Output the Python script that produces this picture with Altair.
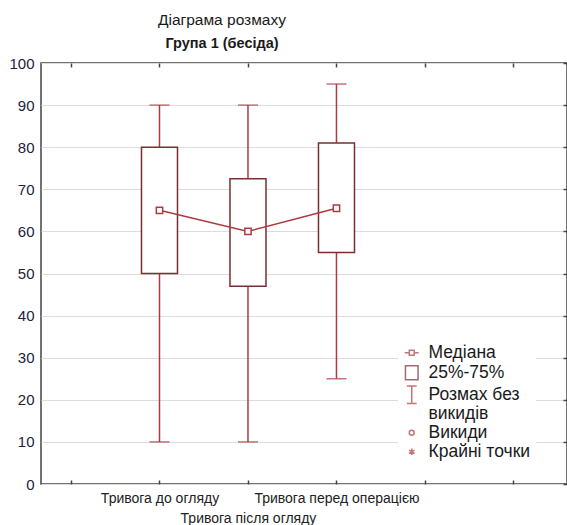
import json
import altair as alt
import pandas as pd

# Box-plot statistics for the three anxiety measurements
categories = ["Тривога до огляду", "Тривога після огляду", "Тривога перед операцією"]
positions = [1, 2, 3]
whisker_low = [10, 10, 25]
whisker_high = [90, 90, 95]
q25 = [50, 47, 55]
q75 = [80, 72.5, 81]
medians = [65, 60, 65.5]

# Legend entries and their symbols
legend_labels = ["Медіана", "25%-75%", "Розмах без\n викидів", "Викиди", "Крайні точки"]
legend_shapes = [
    "M-1,0H-0.35M0.35,0H1M-0.35,-0.35H0.35V0.35H-0.35Z",
    "M-0.9,-1H0.9V1H-0.9Z",
    "M-0.7,-1.25H0.7M0,-1.25V1.25M-0.7,1.25H0.7",
    "M-0.35,0A0.35,0.35,0,1,0,0.35,0A0.35,0.35,0,1,0,-0.35,0Z",
    "M0,-0.45V0.45M-0.4,-0.22L0.4,0.22M-0.4,0.22L0.4,-0.22",
]

RED = "#ad3a3f"
DARK = "#7a2e30"
legend_colors = [RED, DARK, RED, RED, RED]
FONT = "Liberation Sans"
AXIS_COLOR = "#444444"

df = pd.DataFrame({
    "pos": positions,
    "name": categories,
    "lo": whisker_low,
    "hi": whisker_high,
    "q1": q25,
    "q3": q75,
    "med": medians,
})
legend_df = pd.DataFrame({"entry": legend_labels})

x_scale = alt.Scale(domain=[-0.339, 5.605], nice=False, zero=False, padding=0)
y_scale = alt.Scale(domain=[0, 100], nice=False, zero=False, padding=0)
tick_positions = [0, 1, 2, 3, 4, 5]
y_ticks = list(range(0, 101, 10))

names_js = json.dumps(categories, ensure_ascii=False)
label_expr = (
    f"datum.value % 2 == 0 ? ['', {names_js}[datum.value - 1]] "
    f": {names_js}[datum.value - 1]"
)
legend_label_expr = "split(datum.label, '\\n')"

base = alt.Chart(df)

# Whiskers, carrying the labelled bottom axis and the left axis with grid
whiskers = base.mark_rule(color=RED, strokeWidth=1.5).encode(
    x=alt.X("pos:Q", scale=x_scale, axis=alt.Axis(
        orient="bottom", values=[1, 2, 3], ticks=False, domain=False, grid=False,
        labelExpr=label_expr, labelFont=FONT, labelFontSize=14, labelColor="#222222",
        labelPadding=7, labelLineHeight=20, labelBaseline="top", labelFlush=False,
        labelOverlap=False, title=None)),
    y=alt.Y("lo:Q", scale=y_scale, axis=alt.Axis(
        orient="left", values=y_ticks, ticks=False, domain=False, grid=True,
        gridColor="#dcdcdc", gridWidth=1, labelFont=FONT, labelFontSize=15,
        labelColor="#22223a", labelPadding=7, title=None)),
    y2="hi:Q",
)

# Whisker caps, carrying inward tick marks on the top and right edges
caps_hi = base.mark_tick(color=RED, orient="horizontal", size=20, thickness=1.5).encode(
    x=alt.X("pos:Q", scale=x_scale, axis=alt.Axis(
        orient="top", values=tick_positions, labels=False, domain=False, grid=False,
        ticks=True, tickSize=4, tickColor=AXIS_COLOR, tickWidth=1.5, offset=-4, title=None)),
    y=alt.Y("hi:Q", scale=y_scale, axis=alt.Axis(
        orient="right", values=y_ticks, labels=False, domain=False, grid=False,
        ticks=True, tickSize=4, tickColor=AXIS_COLOR, tickWidth=1.5, offset=-4, title=None)),
)
caps_lo = base.mark_tick(color=RED, orient="horizontal", size=20, thickness=1.5).encode(
    x=alt.X("pos:Q", scale=x_scale, axis=None),
    y=alt.Y("lo:Q", scale=y_scale, axis=None),
)

# Interquartile boxes, carrying inward tick marks on the bottom edge
boxes = base.mark_bar(size=36, fill="white", stroke=DARK, strokeWidth=1.5).encode(
    x=alt.X("pos:Q", scale=x_scale, axis=alt.Axis(
        orient="bottom", values=tick_positions, labels=False, domain=False, grid=False,
        ticks=True, tickSize=4, tickColor=AXIS_COLOR, tickWidth=1.5, offset=-4, title=None)),
    y=alt.Y("q1:Q", scale=y_scale, axis=None),
    y2="q3:Q",
)

# Medians joined by a line
median_line = base.mark_line(color=RED, strokeWidth=1.5).encode(
    x=alt.X("pos:Q", scale=x_scale, axis=None),
    y=alt.Y("med:Q", scale=y_scale, axis=None),
)
median_pts = base.mark_point(shape="square", size=40, filled=False, fill="white",
                             fillOpacity=1, stroke=RED, strokeWidth=1.5).encode(
    x=alt.X("pos:Q", scale=x_scale, axis=None),
    y=alt.Y("med:Q", scale=y_scale, axis=None),
)

# Legend-only layer: points sit outside the clipped view
legend_layer = alt.Chart(legend_df).mark_point(size=196, filled=False, clip=True,
                                               strokeWidth=1.5).encode(
    x=alt.value(-60),
    y=alt.value(-60),
    shape=alt.Shape("entry:N", scale=alt.Scale(domain=legend_labels, range=legend_shapes),
                    legend=alt.Legend(title=None, labelExpr=legend_label_expr)),
    stroke=alt.Stroke("entry:N", scale=alt.Scale(domain=legend_labels, range=legend_colors),
                      legend=alt.Legend(title=None, labelExpr=legend_label_expr)),
)

chart = alt.layer(
    whiskers, caps_hi, caps_lo, boxes, median_line, median_pts, legend_layer
).resolve_axis(
    x="independent", y="independent"
).properties(
    width=526,
    height=421,
    autosize=alt.AutoSizeParams(type="none"),
    padding={"left": 41, "top": 63, "right": 0, "bottom": 41},
    title=alt.TitleParams(
        text="Діаграма розмаху",
        subtitle="Група 1 (бесіда)",
        font=FONT, fontSize=15.5, fontWeight="normal", color="#1a1a1a",
        subtitleFont=FONT, subtitleFontSize=14.5, subtitleFontWeight="bold",
        subtitleColor="#1a1a1a", subtitlePadding=8,
        anchor="middle", dx=-82, offset=6,
    ),
).configure_view(
    stroke=AXIS_COLOR, strokeWidth=1.5
).configure_legend(
    orient="none", legendX=357, legendY=276, fillColor="white", padding=5,
    rowPadding=0, symbolSize=196, symbolStrokeWidth=1.5, symbolFillColor="transparent",
    labelFont=FONT, labelFontSize=17.5, labelColor="#1a1a1a", labelLimit=300,
    labelOffset=8,
)

chart.save("out.html", embed_options={"renderer": "svg", "actions": False})
